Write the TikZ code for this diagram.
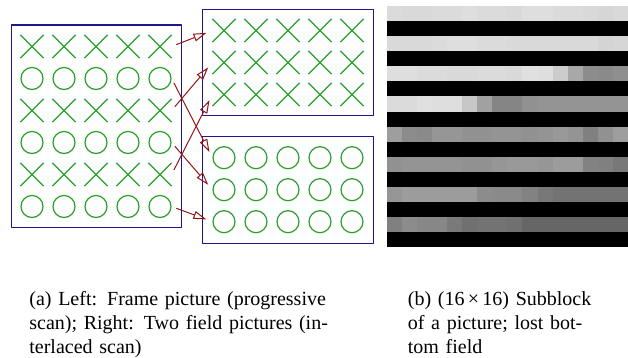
\documentclass[tikz,border=0pt]{standalone}
\usepackage{fontspec}
\setmainfont{Liberation Serif}
\usetikzlibrary{arrows.meta,shapes.misc}
\definecolor{framenavy}{RGB}{25,25,140}
\definecolor{symgreen}{RGB}{40,160,40}
\definecolor{arrowred}{RGB}{150,20,20}
% one line of the 16x16 subblock: #1 = row, #2 = grey levels (percent white)
\newcommand\greyrow[2]{%
  \foreach \g [count=\c from 0] in {#2}
    \fill[white!\g!black] ({386.7+\c*15.08},{6+#1*15.08}) rectangle ++(15.08,15.08);}
\begin{document}
\begin{tikzpicture}[x=0.5pt,y=-0.5pt,line join=round,
    xmark/.style={draw=symgreen,line width=0.6pt,cross out,minimum size=11pt,inner sep=0pt},
    omark/.style={draw=symgreen,line width=0.6pt,circle,minimum size=11pt,inner sep=0pt},
    picframe/.style={draw=framenavy,line width=0.6pt},
    fieldarrow/.style={draw=arrowred,line width=0.5pt,-{Triangle[open,length=6.5pt,width=4pt]},
      shorten <=2.5pt,shorten >=3.2pt},
    caption/.style={inner sep=0pt,anchor=north west,font=\fontsize{10pt}{12pt}\selectfont}]
\useasboundingbox (0,0) rectangle (628,358);
% frame picture, progressive scan
\draw[picframe] (11.3,25) rectangle (181.7,227.3);
\foreach \r in {1,3,5} \foreach \c in {1,...,5}
  \node[xmark] (L-\r-\c) at ({32+32*(\c-1)},{46.5+32*(\r-1)}) {};
\foreach \r in {2,4,6} \foreach \c in {1,...,5}
  \node[omark] (L-\r-\c) at ({32+32*(\c-1)},{46.5+32*(\r-1)}) {};
% the two field pictures
\draw[picframe] (202.7,9.3) rectangle (373.3,115.7);
\draw[picframe] (202.7,136.7) rectangle (373.3,243.3);
\foreach \r in {1,2,3} \foreach \c in {1,...,5}{
  \node[xmark] (T-\r-\c) at ({224+32*(\c-1)},{30.5+32*(\r-1)}) {};
  \node[omark] (B-\r-\c) at ({224+32*(\c-1)},{157.7+32*(\r-1)}) {};}
\foreach \r/\t in {1/1,3/2,5/3} \draw[fieldarrow] (L-\r-5.east) -- (T-\t-1.west);
\foreach \r/\t in {2/1,4/2,6/3} \draw[fieldarrow] (L-\r-5.east) -- (B-\t-1.west);
% subblock with the bottom field lost
\fill[black] (386.7,6) rectangle (628,247.3);
\greyrow{0}{86,85,85,86,86,87,86,86,85,87,87,86,86,85,84,85}
\greyrow{2}{85,85,85,86,87,87,86,86,85,85,85,85,85,85,83,84}
\greyrow{4}{87,87,86,86,85,85,86,86,85,88,87,80,66,55,54,56}
\greyrow{6}{86,86,88,87,87,78,63,52,52,57,58,58,58,58,58,58}
\greyrow{8}{62,55,54,59,59,57,57,58,58,57,58,60,58,50,57,62}
\greyrow{10}{57,58,58,58,58,57,57,59,60,60,59,61,61,51,50,47}
\greyrow{12}{59,61,61,61,61,61,55,54,54,51,47,45,45,45,45,45}
\greyrow{14}{50,55,53,53,48,44,45,45,44,40,40,40,40,40,40,40}
% captions
\node[caption,text width=159pt] (capa) at (29,291) {\noindent(a) Left: Frame picture (progressive\linebreak
  scan); Right: Two field pictures (in-\linebreak terlaced scan)};
\node[caption,text width=96.5pt] (capb) at (407.5,291) {\noindent(b) (16\,×\,16) Subblock\linebreak
  of a picture; lost bot-\linebreak tom field};
\end{tikzpicture}
\end{document}
